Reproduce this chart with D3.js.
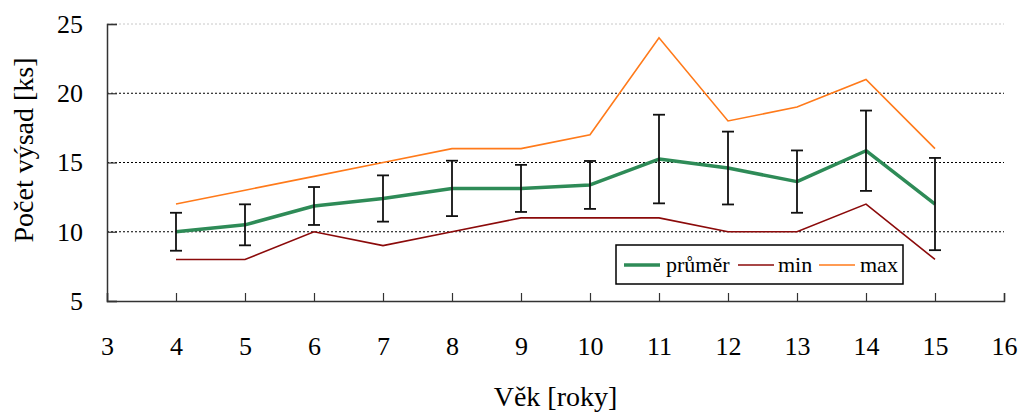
<!DOCTYPE html>
<html>
<head>
<meta charset="utf-8">
<script src="https://cdn.jsdelivr.net/npm/d3@7"></script>
</head>
<body style="margin:0">
<svg id="chart" width="1022" height="415"></svg>
<script>
// Age in years
const ages = [4, 5, 6, 7, 8, 9, 10, 11, 12, 13, 14, 15];
// Average number of plantings per age
const meanValues = [10.0, 10.5, 11.86, 12.4, 13.13, 13.13, 13.38, 15.25, 14.6, 13.62, 15.85, 12.0];
// Half-length of the error bar (standard deviation)
const sdValues = [1.37, 1.48, 1.37, 1.67, 2.0, 1.7, 1.73, 3.2, 2.63, 2.25, 2.9, 3.33];
const minValues = [8, 8, 10, 9, 10, 11, 11, 11, 10, 10, 12, 8];
const maxValues = [12, 13, 14, 15, 16, 16, 17, 24, 18, 19, 21, 16];
const xTicks = [3, 4, 5, 6, 7, 8, 9, 10, 11, 12, 13, 14, 15, 16];
const yTicks = [5, 10, 15, 20, 25];
const legendLabels = ["průměr", "min", "max"];

const colors = { mean: "#2e8b57", min: "#8b0a0a", max: "#ff7a1a" };
const FONT = "'Liberation Serif'";

const svg = d3.select("#chart").style("font-family", FONT);
const margin = { left: 107, right: 18, top: 24, bottom: 114 };
const W = 1022, H = 415;

const x = d3.scaleLinear().domain([3, 16]).range([margin.left, W - margin.right]);
const y = d3.scaleLinear().domain([5, 25]).range([H - margin.bottom, margin.top]);

// Horizontal grid lines
svg.append("g")
  .selectAll("line")
  .data(yTicks.filter(d => d > 5))
  .join("line")
  .attr("x1", x(3)).attr("x2", x(16))
  .attr("y1", d => y(d)).attr("y2", d => y(d))
  .attr("stroke", d => d === 25 ? "#c8c8c8" : "#000")
  .attr("stroke-width", 1)
  .attr("stroke-dasharray", "2,2");

// Axes
const xAxis = d3.axisBottom(x).tickValues(xTicks).tickSize(-8).tickPadding(36).tickFormat(d3.format("d"));
const gx = svg.append("g").attr("transform", `translate(0,${y(5)})`).call(xAxis)
  .attr("font-family", null).attr("font-size", null);
gx.select(".domain").attr("stroke", "#333").attr("stroke-width", 1.5);
gx.selectAll(".tick line").attr("stroke", "#333").attr("stroke-width", 1.2);
gx.selectAll(".tick text").style("font-family", FONT).attr("font-size", 26)
  .attr("dy", "0.71em").attr("fill", "#000");

const yAxis = d3.axisLeft(y).tickValues(yTicks).tickSize(-10).tickPadding(24).tickFormat(d3.format("d"));
const gy = svg.append("g").attr("transform", `translate(${x(3)},0)`).call(yAxis)
  .attr("font-family", null).attr("font-size", null);
gy.select(".domain").attr("stroke", "#333").attr("stroke-width", 1.5);
gy.selectAll(".tick line").attr("stroke", "#333").attr("stroke-width", 1.2);
gy.selectAll(".tick text").style("font-family", FONT).attr("font-size", 26).attr("fill", "#000");

// Axis titles
svg.append("text")
  .attr("x", (x(3) + x(16)) / 2).attr("y", 406)
  .attr("text-anchor", "middle")
  .style("font-family", FONT).attr("font-size", 28)
  .text("Věk [roky]");
svg.append("text")
  .attr("transform", `translate(33,150) rotate(-90)`)
  .attr("text-anchor", "middle")
  .style("font-family", FONT).attr("font-size", 28)
  .text("Počet výsad [ks]");

// Lines
const lineGen = vals => d3.line().x((d, i) => x(ages[i])).y(d => y(d))(vals);

svg.append("path").attr("d", lineGen(maxValues))
  .attr("fill", "none").attr("stroke", colors.max).attr("stroke-width", 1.6);
svg.append("path").attr("d", lineGen(minValues))
  .attr("fill", "none").attr("stroke", colors.min).attr("stroke-width", 1.6);
svg.append("path").attr("d", lineGen(meanValues))
  .attr("fill", "none").attr("stroke", colors.mean).attr("stroke-width", 3.5)
  .attr("stroke-linejoin", "round");

// Error bars
const eb = svg.append("g").attr("stroke", "#111").attr("stroke-width", 1.8);
ages.forEach((a, i) => {
  const cx = x(a), top = y(meanValues[i] + sdValues[i]), bot = y(meanValues[i] - sdValues[i]);
  eb.append("line").attr("x1", cx).attr("x2", cx).attr("y1", top).attr("y2", bot);
  eb.append("line").attr("x1", cx - 6).attr("x2", cx + 6).attr("y1", top).attr("y2", top);
  eb.append("line").attr("x1", cx - 6).attr("x2", cx + 6).attr("y1", bot).attr("y2", bot);
});

// Legend
const lg = svg.append("g");
lg.append("rect").attr("x", 616).attr("y", 245).attr("width", 287).attr("height", 39)
  .attr("fill", "#fff").attr("stroke", "#000").attr("stroke-width", 1.5);
const legendItems = [
  { label: legendLabels[0], color: colors.mean, w: 3.5, x0: 624, tx: 666 },
  { label: legendLabels[1], color: colors.min, w: 1.6, x0: 738, tx: 778 },
  { label: legendLabels[2], color: colors.max, w: 1.6, x0: 819, tx: 860 }
];
legendItems.forEach(it => {
  lg.append("line").attr("x1", it.x0).attr("x2", it.x0 + 36).attr("y1", 265).attr("y2", 265)
    .attr("stroke", it.color).attr("stroke-width", it.w);
  lg.append("text").attr("x", it.tx).attr("y", 272)
    .style("font-family", FONT).attr("font-size", 22).text(it.label);
});
</script>
</body>
</html>
